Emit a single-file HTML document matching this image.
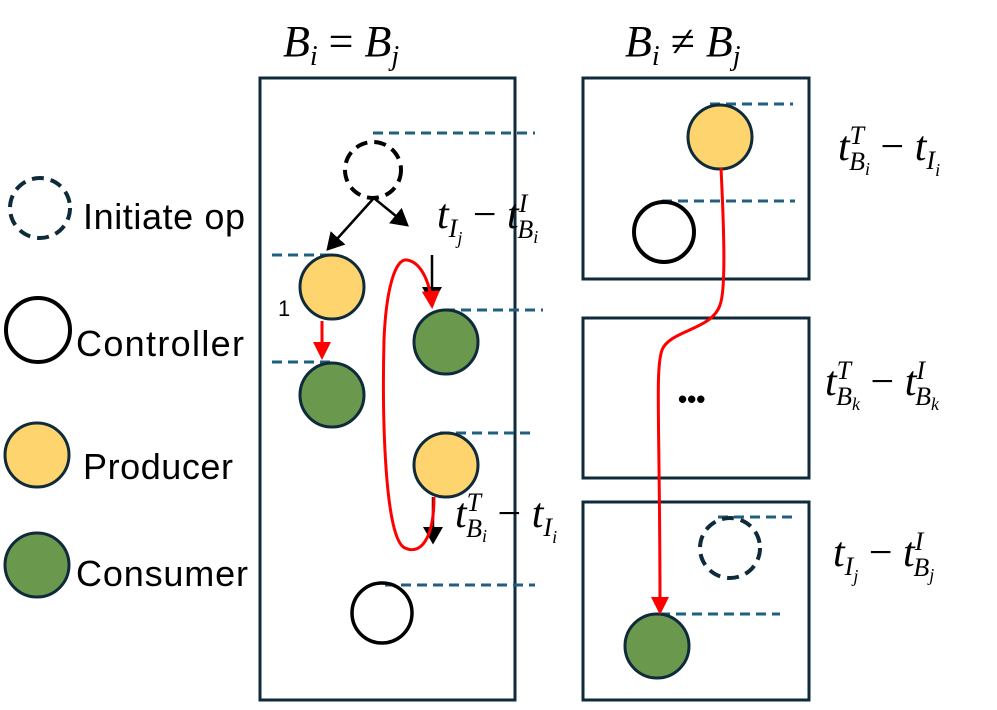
<!DOCTYPE html>
<html><head><meta charset="utf-8"><style>
body{margin:0;background:#fff;}
svg text{font-family:"Liberation Serif",serif;font-style:italic;}
.s{font-family:"Liberation Sans",sans-serif;font-style:normal;}
</style></head><body>
<svg width="997" height="705" viewBox="0 0 997 705" xmlns="http://www.w3.org/2000/svg">
<defs>
<marker id="ab" markerWidth="8" markerHeight="8" refX="6" refY="4" orient="auto" markerUnits="strokeWidth"><path d="M0,0 L7,4 L0,8z" fill="#000"/></marker>
<marker id="ar" markerWidth="6" markerHeight="6" refX="5" refY="3" orient="auto" markerUnits="strokeWidth"><path d="M0,0 L6,3 L0,6z" fill="#f00"/></marker>
</defs>
<g fill="none" stroke="#0f2a3a" stroke-width="3">
<rect x="260" y="78" width="255" height="622"/>
<rect x="583" y="78" width="226" height="201"/>
<rect x="583" y="318" width="226" height="160"/>
<rect x="583" y="502" width="226" height="198"/>
</g>
<g stroke="#1f5f80" stroke-width="3" stroke-dasharray="10,6">
<line x1="373" y1="133" x2="535" y2="133"/>
<line x1="272" y1="255" x2="332" y2="255"/>
<line x1="272" y1="362" x2="332" y2="362"/>
<line x1="445" y1="310" x2="543" y2="310"/>
<line x1="440" y1="433" x2="535" y2="433"/>
<line x1="385" y1="585" x2="535" y2="585"/>
<line x1="710" y1="104" x2="793" y2="104"/>
<line x1="662" y1="201" x2="795" y2="201"/>
<line x1="718" y1="517" x2="793" y2="517"/>
<line x1="660" y1="614" x2="780" y2="614"/>
</g>
<!-- legend -->
<circle cx="40" cy="208" r="30" fill="none" stroke="#0f2a3a" stroke-width="4" stroke-dasharray="12,7"/>
<circle cx="38" cy="330" r="32" fill="none" stroke="#000" stroke-width="4"/>
<circle cx="37" cy="455" r="32" fill="#fed46e" stroke="#0f2a3a" stroke-width="3"/>
<circle cx="37" cy="565" r="32" fill="#6a994e" stroke="#0f2a3a" stroke-width="3"/>
<text class="s" x="83" y="229" font-size="36" textLength="162">Initiate op</text>
<text class="s" x="76" y="356" font-size="36" textLength="168">Controller</text>
<text class="s" x="83" y="479" font-size="36" textLength="150">Producer</text>
<text class="s" x="76" y="586" font-size="36" textLength="172">Consumer</text>
<!-- titles -->
<text x="283" y="56" font-size="44">B<tspan font-size="28" dy="9">i</tspan><tspan dy="-9" font-style="normal"> = </tspan>B<tspan font-size="28" dy="9">j</tspan></text>
<text x="625" y="56" font-size="44">B<tspan font-size="28" dy="9">i</tspan><tspan dy="-9" font-style="normal"> ≠ </tspan>B<tspan font-size="28" dy="9">j</tspan></text>
<!-- left nodes -->
<circle cx="373" cy="170" r="28" fill="none" stroke="#000" stroke-width="4" stroke-dasharray="12,7"/>
<circle cx="332" cy="287" r="32" fill="#fed46e" stroke="#0f2a3a" stroke-width="3"/>
<circle cx="332" cy="395" r="32" fill="#6a994e" stroke="#0f2a3a" stroke-width="3"/>
<circle cx="446" cy="342" r="32" fill="#6a994e" stroke="#0f2a3a" stroke-width="3"/>
<circle cx="446" cy="465" r="32" fill="#fed46e" stroke="#0f2a3a" stroke-width="3"/>
<circle cx="382" cy="613" r="30" fill="none" stroke="#000" stroke-width="3.5"/>
<text class="s" x="278" y="316" font-size="22">1</text>
<g stroke="#000" stroke-width="2.5" fill="none">
<line x1="373" y1="199" x2="328" y2="249" marker-end="url(#ab)"/>
<line x1="375" y1="199" x2="407" y2="225" marker-end="url(#ab)"/>
<line x1="432" y1="255" x2="432" y2="302" marker-end="url(#ab)"/>
<line x1="433" y1="497" x2="433" y2="542" marker-end="url(#ab)"/>
</g>
<g stroke="#f00" stroke-width="3" fill="none">
<line x1="322" y1="321" x2="322" y2="357" marker-end="url(#ar)"/>
<path d="M434,497 C434,540 420,555 405,548 C385,540 382,420 384,340 C386,290 395,258 407,260 C420,262 430,280 432,306" marker-end="url(#ar)"/>
</g>
<text x="437" y="228" font-size="42">t<tspan font-size="26" dy="9">I</tspan><tspan font-size="18" dy="7">j</tspan><tspan dy="-16" font-style="normal"> − </tspan>t<tspan font-size="26" dy="-16">I</tspan><tspan font-size="26" dx="-10" dy="26">B</tspan><tspan font-size="18" dy="5">i</tspan></text>
<text x="455" y="527" font-size="42">t<tspan font-size="26" dy="-16">T</tspan><tspan font-size="26" dx="-15" dy="26">B</tspan><tspan font-size="18" dy="5">i</tspan><tspan dy="-15" font-style="normal"> − </tspan>t<tspan font-size="26" dy="9">I</tspan><tspan font-size="18" dy="7">i</tspan></text>
<!-- right nodes -->
<circle cx="720" cy="137" r="32" fill="#fed46e" stroke="#0f2a3a" stroke-width="3"/>
<circle cx="664" cy="232" r="30" fill="none" stroke="#000" stroke-width="4"/>
<circle cx="730" cy="548" r="30" fill="none" stroke="#0f2a3a" stroke-width="4" stroke-dasharray="12,7"/>
<circle cx="657" cy="646" r="32" fill="#6a994e" stroke="#0f2a3a" stroke-width="3"/>
<text class="s" x="678" y="408" font-size="26" font-weight="bold">•••</text>
<path d="M721,168 C724,230 726,290 720,305 C712,330 670,330 662,350 C655,370 660,420 660,612" stroke="#f00" stroke-width="3" fill="none" marker-end="url(#ar)"/>
<text x="838" y="160" font-size="42">t<tspan font-size="26" dy="-16">T</tspan><tspan font-size="26" dx="-15" dy="26">B</tspan><tspan font-size="18" dy="5">i</tspan><tspan dy="-15" font-style="normal"> − </tspan>t<tspan font-size="26" dy="9">I</tspan><tspan font-size="18" dy="7">i</tspan></text>
<text x="825" y="395" font-size="42">t<tspan font-size="26" dy="-16">T</tspan><tspan font-size="26" dx="-15" dy="26">B</tspan><tspan font-size="18" dy="5">k</tspan><tspan dy="-15" font-style="normal"> − </tspan>t<tspan font-size="26" dy="-16">I</tspan><tspan font-size="26" dx="-10" dy="26">B</tspan><tspan font-size="18" dy="5">k</tspan></text>
<text x="833" y="566" font-size="42">t<tspan font-size="26" dy="9">I</tspan><tspan font-size="18" dy="7">j</tspan><tspan dy="-16" font-style="normal"> − </tspan>t<tspan font-size="26" dy="-16">I</tspan><tspan font-size="26" dx="-10" dy="26">B</tspan><tspan font-size="18" dy="5">j</tspan></text>
</svg>
</body></html>
